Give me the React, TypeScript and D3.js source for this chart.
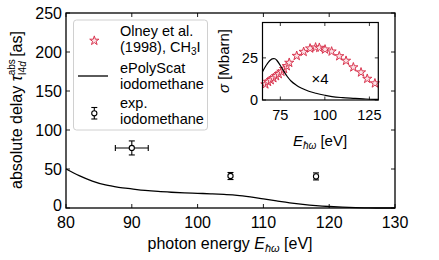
import React from "react";
import * as d3 from "d3";

// main panel: delay vs photon energy
const theoryE = [80, 82, 84, 86, 88, 90, 92, 94, 96, 98, 100, 102, 104, 106, 108, 110, 112, 114, 116, 118, 120, 122, 124, 126, 128, 130];
const theoryDelay = [50, 41.5, 34.5, 29.5, 26.5, 24.5, 22.6, 21.2, 20.2, 19.4, 18.8, 18.2, 17.4, 16.3, 14.2, 11.6, 9.1, 6.7, 4.7, 3.1, 1.9, 1.0, 0.4, 0.1, 0, 0];

const expE = [90, 105, 118];
const expDelay = [77, 41, 40.5];
const expXErr = [2.5, 0, 0];
const expYErr = [9, 4.5, 4.5];

const xTicks = [80, 90, 100, 110, 120, 130];
const yTicks = [0, 50, 100, 150, 200, 250];

// inset: cross sections
const olneyE = [66.6, 68.1, 69.6, 71.1, 72.6, 74.1, 75.6, 77.1, 78.6, 80.0, 84.2, 88.1, 91.7, 94.8, 96.9, 100.1, 103.8, 108.1, 111.9, 116.0, 120.3, 123.8, 128.1];
const olneySigma = [9.3, 10.8, 11.8, 13.0, 14.2, 15.4, 16.8, 18.4, 20.1, 22.1, 26.2, 28.6, 30.6, 31.2, 31.0, 30.0, 28.8, 26.0, 23.3, 19.4, 16.4, 12.6, 9.9];

const calcE = [65, 67, 69, 71, 72, 73, 75, 77, 79, 81, 84, 87, 91, 95, 100, 104, 110, 117, 123, 128, 130];
const calcSigma = [16.8, 20.5, 23.3, 24.6, 24.5, 23.6, 20.5, 17.0, 13.8, 11.3, 8.8, 7.0, 5.2, 4.0, 2.8, 2.0, 1.4, 1.0, 0.6, 0.4, 0.35];

const insetXTicks = [75, 100, 125];
const insetYTicks = [0, 25];

const red = "#d9354f";
const font = "'Liberation Sans', Arial, sans-serif";

export default function App() {
  const x = d3.scaleLinear().domain([80, 130]).range([66, 395]);
  const y = d3.scaleLinear().domain([0, 250]).range([208, 13]);
  const ix = d3.scaleLinear().domain([65, 130]).range([262.5, 378.3]);
  const iy = d3.scaleLinear().domain([0, 46]).range([100, 22.5]);

  const theoryLine = d3
    .line<number>()
    .x((d, i) => x(theoryE[i]))
    .y((d) => y(d))
    .curve(d3.curveMonotoneX)(theoryDelay);

  const calcLine = d3
    .line<number>()
    .x((d, i) => ix(calcE[i]))
    .y((d) => iy(d))
    .curve(d3.curveMonotoneX)(calcSigma);

  const star = d3.symbol(d3.symbolStar, 26)() as string;
  const tl = 4;

  const [x0, x1] = x.range();
  const [y0, y1] = y.range();
  const [ix0, ix1] = ix.range();
  const [iy0, iy1] = iy.range();

  return (
    <svg
      width={439}
      height={260}
      style={{ position: "absolute", left: 0, top: 0, background: "#fff" }}
      fontFamily={font}
    >
      {/* main ticks, mirrored inward */}
      <g stroke="#000" strokeWidth={0.9}>
        {xTicks.map((t) => (
          <g key={"xt" + t}>
            <line x1={x(t)} x2={x(t)} y1={y0} y2={y0 - tl} />
            <line x1={x(t)} x2={x(t)} y1={y1} y2={y1 + tl} />
          </g>
        ))}
        {yTicks.map((t) => (
          <g key={"yt" + t}>
            <line x1={x0} x2={x0 + tl} y1={y(t)} y2={y(t)} />
            <line x1={x1} x2={x1 - tl} y1={y(t)} y2={y(t)} />
          </g>
        ))}
      </g>
      {xTicks.map((t) => (
        <text key={"xl" + t} x={x(t)} y={227.5} fontSize={16} textAnchor="middle">
          {t}
        </text>
      ))}
      {yTicks.map((t) => (
        <text key={"yl" + t} x={62} y={y(t)} dy={t === 0 ? "0.2em" : "0.36em"} fontSize={16} textAnchor="end">
          {t}
        </text>
      ))}

      {/* theory curve */}
      <path d={theoryLine || ""} fill="none" stroke="#000" strokeWidth={1.3} />

      {/* experimental points */}
      {expE.map((e, i) => {
        const cx = x(e);
        const cy = y(expDelay[i]);
        const yt = y(expDelay[i] + expYErr[i]);
        const yb = y(expDelay[i] - expYErr[i]);
        const xl = x(e - expXErr[i]);
        const xr = x(e + expXErr[i]);
        return (
          <g key={"exp" + i} stroke="#000" strokeWidth={1.1}>
            <line x1={cx} x2={cx} y1={yt} y2={yb} />
            <line x1={cx - 3} x2={cx + 3} y1={yt} y2={yt} />
            <line x1={cx - 3} x2={cx + 3} y1={yb} y2={yb} />
            {expXErr[i] > 0 && (
              <g>
                <line x1={xl} x2={xr} y1={cy} y2={cy} />
                <line x1={xl} x2={xl} y1={cy - 3} y2={cy + 3} />
                <line x1={xr} x2={xr} y1={cy - 3} y2={cy + 3} />
              </g>
            )}
            <circle cx={cx} cy={cy} r={2.6} fill="#fff" />
          </g>
        );
      })}

      {/* main frame */}
      <rect x={x0} y={y1} width={x1 - x0} height={y0 - y1} fill="none" stroke="#000" strokeWidth={1.3} />

      {/* legend */}
      <rect x={73.5} y={20} width={134} height={110} rx={3} fill="#fff" fillOpacity={0.8} stroke="#d0d0d0" strokeWidth={1} />
      <path d={star} transform="translate(94.3,40.7)" fill="#fbe3e7" stroke={red} strokeWidth={1} />
      <text x={120} y={36} fontSize={14.5}>Olney et al.</text>
      <text x={120} y={52} fontSize={14.5}>
        (1998), CH<tspan fontSize={10} dy={3}>3</tspan>
        <tspan dy={-3}>I</tspan>
      </text>
      <line x1={78} x2={108} y1={76} y2={76} stroke="#000" strokeWidth={1.3} />
      <text x={120} y={73} fontSize={14.5}>ePolyScat</text>
      <text x={120} y={88.5} fontSize={14.5}>iodomethane</text>
      <g stroke="#000" strokeWidth={1.1}>
        <line x1={94.3} x2={94.3} y1={107.5} y2={119} />
        <line x1={91.3} x2={97.3} y1={107.5} y2={107.5} />
        <line x1={91.3} x2={97.3} y1={119} y2={119} />
        <circle cx={94.3} cy={113.3} r={2.6} fill="#fff" />
      </g>
      <text x={120} y={108} fontSize={14.5}>exp.</text>
      <text x={120} y={123.5} fontSize={14.5}>iodomethane</text>

      {/* inset */}
      <rect x={ix0} y={iy1} width={ix1 - ix0} height={iy0 - iy1} fill="#fff" />
      <g stroke="#000" strokeWidth={0.8}>
        {insetXTicks.map((t) => (
          <g key={"ixt" + t}>
            <line x1={ix(t)} x2={ix(t)} y1={iy0} y2={iy0 - 3.5} />
            <line x1={ix(t)} x2={ix(t)} y1={iy1} y2={iy1 + 3.5} />
          </g>
        ))}
        {insetYTicks.map((t) => (
          <g key={"iyt" + t}>
            <line x1={ix0} x2={ix0 + 3.5} y1={iy(t)} y2={iy(t)} />
            <line x1={ix1} x2={ix1 - 3.5} y1={iy(t)} y2={iy(t)} />
          </g>
        ))}
      </g>
      {olneyE.map((e, i) => (
        <path
          key={"st" + i}
          d={star}
          transform={`translate(${ix(e)},${iy(olneySigma[i])})`}
          fill="#fbe3e7"
          stroke={red}
          strokeWidth={1}
        />
      ))}
      <path d={calcLine || ""} fill="none" stroke="#000" strokeWidth={1.2} />
      <rect x={ix0} y={iy1} width={ix1 - ix0} height={iy0 - iy1} fill="none" stroke="#000" strokeWidth={1.2} />
      <text x={320} y={84} fontSize={15} textAnchor="middle">×4</text>
      {insetXTicks.map((t) => (
        <text key={"ixl" + t} x={ix(t)} y={120} fontSize={14.5} textAnchor="middle">
          {t}
        </text>
      ))}
      {insetYTicks.map((t) => (
        <text key={"iyl" + t} x={258} y={iy(t)} dy="0.36em" fontSize={14.5} textAnchor="end">
          {t}
        </text>
      ))}
      <text transform="translate(229,61) rotate(-90)" fontSize={15} textAnchor="middle">
        <tspan fontStyle="italic">σ</tspan> [Mbarn]
      </text>
      <text x={320} y={146} fontSize={15} textAnchor="middle">
        <tspan fontStyle="italic">E</tspan>
        <tspan fontSize={10} fontStyle="italic" dy={3}>ħω</tspan>
        <tspan dy={-3}> [eV]</tspan>
      </text>

      {/* axis labels */}
      <text x={230} y={249} fontSize={16} textAnchor="middle">
        photon energy <tspan fontStyle="italic">E</tspan>
        <tspan fontSize={11} fontStyle="italic" dy={3}>ħω</tspan>
        <tspan dy={-3}> [eV]</tspan>
      </text>
      <text transform="translate(22,110) rotate(-90)" fontSize={16} textAnchor="middle">
        absolute delay <tspan fontStyle="italic">τ</tspan>
        <tspan fontSize={10} dy={-7}>abs</tspan>
        <tspan fontSize={10} dx={-16} dy={11}>I4<tspan fontStyle="italic">d</tspan></tspan>
        <tspan dy={-4}> [as]</tspan>
      </text>
    </svg>
  );
}
